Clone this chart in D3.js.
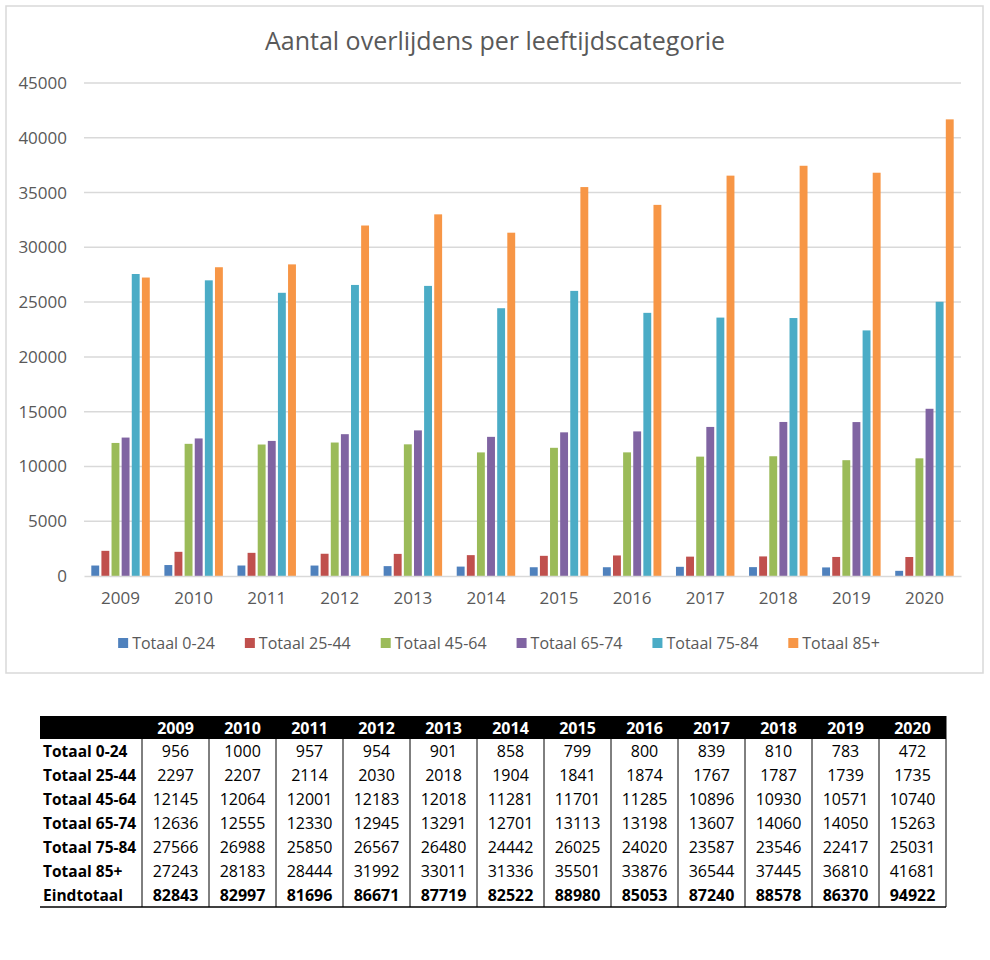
<!DOCTYPE html>
<meta charset="utf-8">
<style>
body{
  margin:0;
  background:#fff;
}
text{
  font-family:"Open Sans", sans-serif;
}
.axis text{
  font-size:17px;
  fill:#595959;
}
.grid line{
  stroke:#d9d9d9;
  stroke-width:1.5px;
}
.title{
  font-size:25px;
  fill:#595959;
  text-anchor:middle;
}
.legend text{
  font-size:16px;
  fill:#595959;
}
.tbl text{
  font-size:16px;
  fill:#000;
}
.tbl text.lbl{
  font-size:15.5px;
}
</style>
<body>
<div id="chart"></div>

<script src="https://d3js.org/d3.v7.min.js"></script>
<script>
// data
var years = ["2009","2010","2011","2012","2013","2014","2015","2016","2017","2018","2019","2020"];
var series = ["Totaal 0-24","Totaal 25-44","Totaal 45-64","Totaal 65-74","Totaal 75-84","Totaal 85+"];
var colors = ["#4f81bd","#c0504d","#9bbb59","#8064a2","#4bacc6","#f79646"];

var v0_24  = [956,1000,957,954,901,858,799,800,839,810,783,472];
var v25_44 = [2297,2207,2114,2030,2018,1904,1841,1874,1767,1787,1739,1735];
var v45_64 = [12145,12064,12001,12183,12018,11281,11701,11285,10896,10930,10571,10740];
var v65_74 = [12636,12555,12330,12945,13291,12701,13113,13198,13607,14060,14050,15263];
var v75_84 = [27566,26988,25850,26567,26480,24442,26025,24020,23587,23546,22417,25031];
var v85    = [27243,28183,28444,31992,33011,31336,35501,33876,36544,37445,36810,41681];
var totals = [82843,82997,81696,86671,87719,82522,88980,85053,87240,88578,86370,94922];

var yTicks = [0,5000,10000,15000,20000,25000,30000,35000,40000,45000];

var values = [v0_24, v25_44, v45_64, v65_74, v75_84, v85];

var svg = d3.select("#chart").append("svg").attr("width", 990).attr("height", 960);

// chart frame
svg.append("rect").attr("x",6).attr("y",6).attr("width",977).attr("height",667)
  .attr("fill","#fff").attr("stroke","#d9d9d9").attr("stroke-width",1.5);

svg.append("text").attr("class","title").attr("x",495).attr("y",50)
  .text("Aantal overlijdens per leeftijdscategorie");

var pLeft = 84, pRight = 961, pTop = 83, pBottom = 576;

var x = d3.scaleBand().domain(years).range([pLeft, pRight]).padding(0);
var xs = d3.scaleBand().domain(series).range([x.bandwidth()*0.1, x.bandwidth()*0.9]).paddingInner(0.22);
var y = d3.scaleLinear().domain([0,45000]).range([pBottom, pTop]);

// gridlines
svg.append("g").attr("class","grid")
  .selectAll("line").data(yTicks.slice(1)).enter().append("line")
  .attr("x1",pLeft).attr("x2",pRight)
  .attr("y1",d=>y(d)).attr("y2",d=>y(d));

// y axis labels
var yAxis = d3.axisLeft(y).tickValues(yTicks).tickSize(0).tickPadding(17).tickFormat(d3.format("d"));
svg.append("g").attr("class","axis").attr("transform","translate("+pLeft+",0)")
  .call(yAxis)
  .call(g=>g.select(".domain").remove());

// bars
var groups = svg.append("g").selectAll("g").data(years).enter().append("g")
  .attr("transform",d=>"translate("+x(d)+",0)");

groups.selectAll("rect")
  .data((d,i)=>series.map((s,k)=>({s:s, k:k, v:values[k][i]})))
  .enter().append("rect")
  .attr("x",d=>xs(d.s))
  .attr("width",xs.bandwidth())
  .attr("y",d=>y(d.v))
  .attr("height",d=>pBottom-y(d.v))
  .attr("fill",d=>colors[d.k]);

// x axis
var xAxis = d3.axisBottom(x).tickSize(0).tickPadding(16);
svg.append("g").attr("class","axis").attr("transform","translate(0,"+pBottom+")")
  .call(xAxis)
  .call(g=>g.select(".domain").attr("stroke","#d9d9d9").attr("stroke-width",1.5));

// legend, centered
var legend = svg.append("g").attr("class","legend");
var items = legend.selectAll("g").data(series).enter().append("g");
items.append("rect").attr("width",10).attr("height",10).attr("y",-11)
  .attr("fill",(d,i)=>colors[i]);
items.append("text").attr("x",14).attr("y",0).text(d=>d);
var gap = 30, pos = 0, offs = [];
items.each(function(){
  offs.push(pos);
  pos += 14 + this.querySelector("text").getComputedTextLength() + gap;
});
pos -= gap;
var lx = 499 - pos/2;
items.attr("transform",(d,i)=>"translate("+(lx+offs[i])+",649)");

// table
var tbl = svg.append("g").attr("class","tbl");
var tx0 = 40, tcol0 = 102, tcw = 67, ty0 = 716, th = 23, rh = 24;
var tx = d3.scaleBand().domain(years).range([tx0+tcol0, tx0+tcol0+tcw*years.length]);
var rowNames = series.concat(["Eindtotaal"]);
var rowVals = values.concat([totals]);
var ty = d3.scaleBand().domain(rowNames).range([ty0+th, ty0+th+rh*rowNames.length]);
var tRight = tx0+tcol0+tcw*years.length;

tbl.append("rect").attr("x",tx0).attr("y",ty0).attr("width",tRight-tx0).attr("height",th).attr("fill","#000");
tbl.selectAll(".hdr").data(years).enter().append("text")
  .attr("x",d=>tx(d)+tcw/2).attr("y",ty0+18)
  .attr("text-anchor","middle").attr("font-weight","bold").style("fill","#fff")
  .text(d=>d);

tbl.selectAll(".vl").data(years).enter().append("line")
  .attr("x1",d=>tx(d)).attr("x2",d=>tx(d))
  .attr("y1",ty0+th).attr("y2",ty0+th+rh*rowNames.length)
  .attr("stroke","#000").attr("stroke-width",1);
tbl.append("line").attr("x1",tRight).attr("x2",tRight)
  .attr("y1",ty0).attr("y2",ty0+th+rh*rowNames.length)
  .attr("stroke","#000");
tbl.append("line").attr("x1",tx0).attr("x2",tRight)
  .attr("y1",ty0+th+rh*rowNames.length).attr("y2",ty0+th+rh*rowNames.length)
  .attr("stroke","#000").attr("stroke-width",1.5);

var rows = tbl.selectAll(".row").data(rowNames).enter().append("g")
  .attr("transform",d=>"translate(0,"+(ty(d)+18)+")");
rows.append("text").attr("class","lbl").attr("x",tx0+3).attr("font-weight","bold").text(d=>d);
rows.each(function(r,ri){
  d3.select(this).selectAll(".cell").data(rowVals[ri]).enter().append("text")
    .attr("x",(d,i)=>tx(years[i])+tcw/2)
    .attr("text-anchor","middle")
    .attr("font-weight",ri==rowNames.length-1 ? "bold" : null)
    .text(d=>d);
});
</script>
</body>
</html>
